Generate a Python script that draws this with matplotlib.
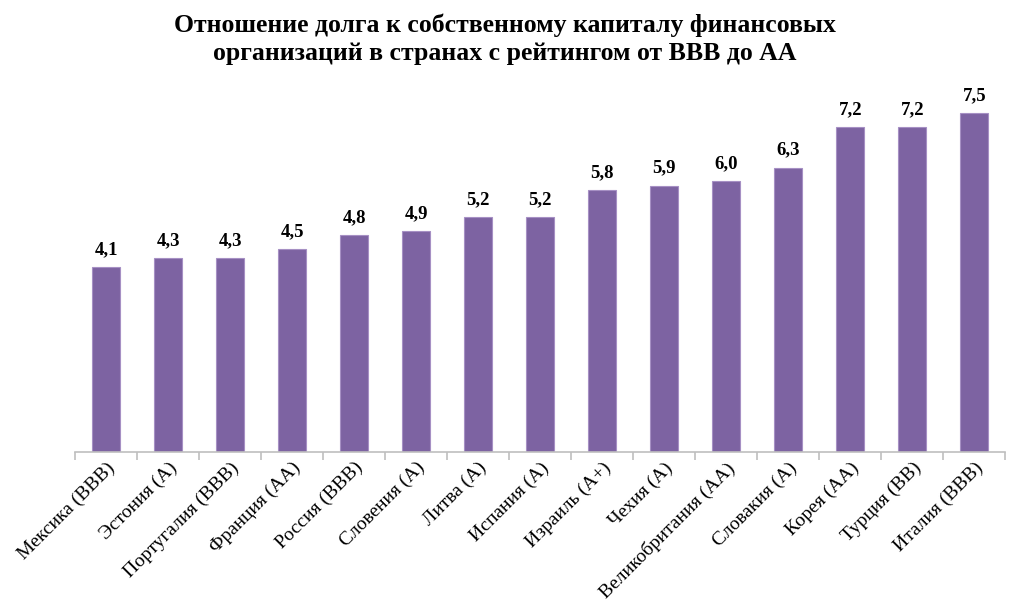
import matplotlib
matplotlib.use("Agg")
import matplotlib.pyplot as plt
import numpy as np

categories = ["Мексика (ВВВ)", "Эстония (А)", "Португалия (ВВВ)", "Франция (АА)",
              "Россия (ВВВ)", "Словения (А)", "Литва (А)", "Испания (А)",
              "Израиль (А+)", "Чехия (А)", "Великобритания (АА)", "Словакия (А)",
              "Корея (АА)", "Турция (ВВ)", "Италия (ВВВ)"]
values = [4.1, 4.3, 4.3, 4.5, 4.8, 4.9, 5.2, 5.2, 5.8, 5.9, 6.0, 6.3, 7.2, 7.2, 7.5]
title = "Отношение долга к собственному капиталу финансовых\nорганизаций в странах с рейтингом от ВВВ до АА"

plt.rcParams['font.family'] = ['Liberation Serif', 'DejaVu Serif']

fig = plt.figure(figsize=(10.1, 6.06), dpi=100)
ax = fig.add_axes([0.0743, 0.254, 0.921, 0.596])
x = np.arange(len(categories))
bars = ax.bar(x, values, width=0.45, color='#7D63A2', edgecolor='#A690C4', linewidth=0.8)
for xi, v in zip(x, values):
    ax.text(xi, v + 0.2, f"{v:.1f}".replace('.', ','), ha='center', va='bottom',
            fontsize=13.5, fontweight='bold')
ax.set_ylim(0, 8)
ax.set_xlim(-0.5, len(categories) - 0.5)
for s in ['top', 'right', 'left']:
    ax.spines[s].set_visible(False)
ax.spines['bottom'].set_color('#BFBFBF')
ax.spines['bottom'].set_linewidth(1.2)
ax.set_yticks([])
ax.set_xticks(x)
ax.set_xticklabels(categories, rotation=45, ha='right', va='top', rotation_mode='anchor',
                   fontsize=14)
ax.tick_params(axis='x', which='major', length=0, pad=5)
ax.set_xticks(np.arange(-0.5, len(categories), 1), minor=True)
ax.tick_params(axis='x', which='minor', length=6, color='#BFBFBF', width=1.2)
fig.text(0.5, 0.978, title, ha='center', va='top', fontsize=18.5, fontweight='bold',
         linespacing=1.3)
fig.savefig("out.png", dpi=100)
